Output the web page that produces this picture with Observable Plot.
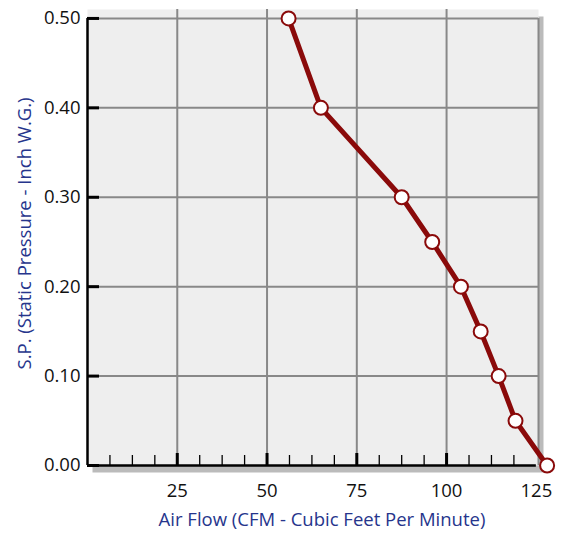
<!DOCTYPE html>
<html><head><meta charset="utf-8">
<script src="https://cdn.jsdelivr.net/npm/d3@7"></script>
<script src="https://cdn.jsdelivr.net/npm/@observablehq/plot@0.6"></script>
<style>
body{margin:0;background:#fff}
#chart svg{display:block}
</style>
</head><body><div id="chart"></div>
<script>
const airFlow = [56, 65, 87.5, 96, 104, 109.5, 114.5, 119.2, 128];
const staticPressure = [0.50, 0.40, 0.30, 0.25, 0.20, 0.15, 0.10, 0.05, 0.00];
const yTicks = [0, 0.1, 0.2, 0.3, 0.4, 0.5];
const xMajorTicks = [25, 50, 75, 100];
const xLabelTicks = [25, 50, 75, 100, 125];
const xMinorTicks = [6.25, 12.5, 18.75, 31.25, 37.5, 43.75, 56.25, 62.5, 68.75, 81.25, 87.5, 93.75, 106.25, 112.5, 118.75];
const xTitle = "Air Flow (CFM - Cubic Feet Per Minute)";
const yTitle = "S.P. (Static Pressure - Inch W.G.)";
const xDomain = [0, 125.6];
const yDomain = [0, 0.51];

const data = airFlow.map((x, i) => ({x, y: staticPressure[i]}));
const yMin = d3.min(yTicks), yMax = d3.max(yTicks);
const xAxisEnd = d3.max(xLabelTicks);

const red = "#8a0a0a";
const navy = "#26358c";
const font = "'Open Sans', sans-serif";
const fs = 18.5;

const chart = Plot.plot({
  width: 562,
  height: 533,
  marginLeft: 87,
  marginRight: 24,
  marginTop: 9,
  marginBottom: 68,
  style: {fontFamily: font, fontSize: fs + "px", color: "#111", background: "#fff"},
  x: {domain: xDomain, axis: null},
  y: {domain: yDomain, axis: null},
  marks: [
    Plot.frame({fill: "#bbbbbb", stroke: null, dx: 5, dy: 7}),
    Plot.frame({fill: "#eeeeee", stroke: null}),
    Plot.gridX(xMajorTicks, {stroke: "#888", strokeOpacity: 1, strokeWidth: 2}),
    Plot.gridY(yTicks.filter(d => d > 0), {stroke: "#888", strokeOpacity: 1, strokeWidth: 2}),
    Plot.ruleX([xDomain[1]], {y1: yMin, y2: yMax, stroke: "#888", strokeWidth: 2}),
    // axis lines
    Plot.ruleX([0], {y1: yMin, y2: yMax, stroke: "#000", strokeWidth: 2.5}),
    Plot.ruleY([0], {x1: 0, x2: xAxisEnd, stroke: "#000", strokeWidth: 2.5}),
    // tick marks (inward)
    Plot.axisY(yTicks, {tickSize: -12, strokeWidth: 3, tickFormat: () => "", label: null, stroke: "#000"}),
    Plot.axisX(xMajorTicks, {tickSize: -12, strokeWidth: 3, tickFormat: () => "", label: null, stroke: "#000"}),
    Plot.axisX(xMinorTicks, {tickSize: -10, strokeWidth: 1.3, tickFormat: () => "", label: null, stroke: "#000"}),
    // tick labels
    Plot.axisY(yTicks, {tickSize: 0, tickPadding: 7, tickFormat: d => d.toFixed(2), label: null, fontSize: fs, fill: "#111"}),
    Plot.axisX(xLabelTicks, {tickSize: 0, tickPadding: 18, tickFormat: d => String(d), label: null, fontSize: fs, fill: "#111"}),
    // data
    Plot.line(data, {x: "x", y: "y", stroke: red, strokeWidth: 5, strokeLinejoin: "round"}),
    Plot.dot(data, {x: "x", y: "y", r: 7, fill: "#fff", stroke: red, strokeWidth: 2}),
    // titles
    Plot.text([xTitle], {frameAnchor: "bottom", dy: 60, dx: 9, text: d => d, fill: navy, fontSize: fs}),
    Plot.text([yTitle], {frameAnchor: "left", dx: -62, dy: -4, rotate: -90, textAnchor: "middle", lineAnchor: "middle", text: d => d, fill: navy, fontSize: fs})
  ]
});
document.getElementById("chart").append(chart);
</script>
</body></html>
